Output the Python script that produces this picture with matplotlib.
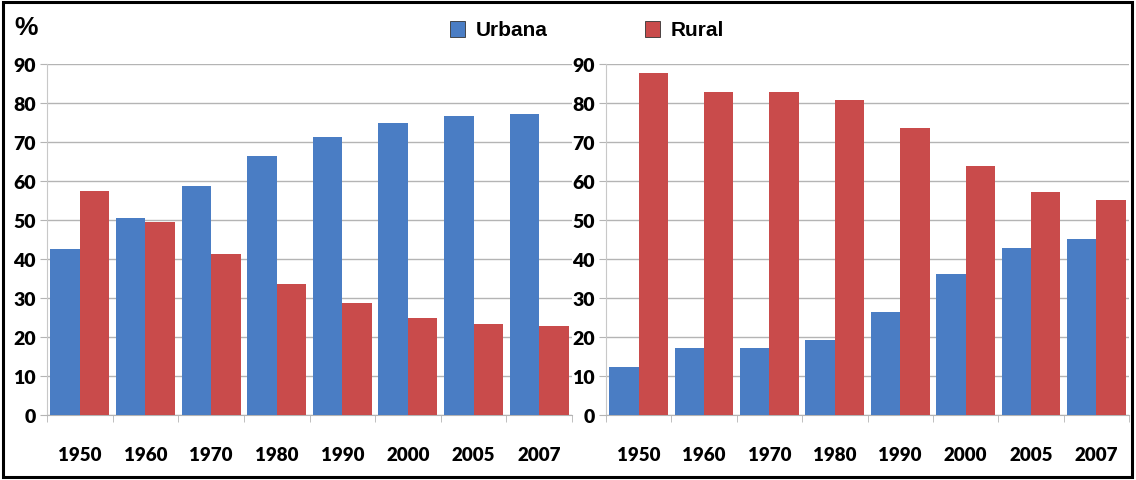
import numpy as np
import matplotlib
matplotlib.use("Agg")
import matplotlib.pyplot as plt
from matplotlib.patches import Rectangle

# data
years = ["1950", "1960", "1970", "1980", "1990", "2000", "2005", "2007"]
left_urban = [42.6, 50.5, 58.6, 66.5, 71.3, 75.0, 76.6, 77.2]
left_rural = [57.4, 49.5, 41.4, 33.5, 28.7, 25.0, 23.4, 22.8]
right_urban = [12.4, 17.2, 17.3, 19.3, 26.4, 36.1, 42.9, 45.0]
right_rural = [87.6, 82.8, 82.7, 80.7, 73.6, 63.9, 57.1, 55.0]
yticks = [0, 10, 20, 30, 40, 50, 60, 70, 80, 90]

blue = "#4a7dc4"
red = "#c94b4b"
grid_col = "#b4b4b4"
font = ["Lato", "DejaVu Sans"]

fig = plt.figure(figsize=(11.36, 4.81), dpi=100)
fig.patch.set_facecolor("white")


def draw_panel(ax, urban, rural):
    x = np.arange(len(years))
    w = 0.45
    ax.bar(x - w / 2, urban, width=w, color=blue, edgecolor="none", zorder=3)
    ax.bar(x + w / 2, rural, width=w, color=red, edgecolor="none", zorder=3)
    ax.set_xlim(-0.5, len(years) - 0.5)
    ax.set_ylim(0, 90)
    ax.set_yticks(yticks)
    ax.set_yticklabels([str(v) for v in yticks], family=font, fontweight="heavy", fontsize=14)
    ax.yaxis.grid(True, color=grid_col, linewidth=1.0, zorder=0)
    # category labels sit between the boundary tick marks
    ax.set_xticks(x)
    ax.set_xticklabels(years, family=font, fontweight="heavy", fontsize=13.5)
    ax.tick_params(axis="x", length=0, pad=22)
    ax.set_xticks(np.arange(len(years) + 1) - 0.5, minor=True)
    ax.tick_params(axis="x", which="minor", length=5, color=grid_col, direction="out")
    ax.tick_params(axis="y", length=5, color=grid_col, pad=3)
    for s in ["top", "right"]:
        ax.spines[s].set_visible(False)
    ax.spines["left"].set_color("#c8c8c8")
    ax.spines["bottom"].set_color(grid_col)


ax1 = fig.add_axes([47 / 1136, 1 - 416 / 481, 525 / 1136, 351 / 481])
draw_panel(ax1, left_urban, left_rural)
ax2 = fig.add_axes([606 / 1136, 1 - 416 / 481, 523 / 1136, 351 / 481])
draw_panel(ax2, right_urban, right_rural)

fig.text(14 / 1136, 1 - 28 / 481, "%", fontsize=19, fontweight="bold",
         family=["Liberation Sans", "DejaVu Sans"], va="center", ha="left")

# legend drawn by hand in figure coords
for xs, col, lab in [(450, blue, "Urbana"), (645, red, "Rural")]:
    fig.patches.append(Rectangle((xs / 1136, 1 - 38 / 481), 15 / 1136, 16 / 481,
                                 transform=fig.transFigure, facecolor=col,
                                 edgecolor="#333333", linewidth=0.6))
    fig.text((xs + 26) / 1136, 1 - 30 / 481, lab, fontsize=15, fontweight="bold",
             family=["Liberation Sans", "DejaVu Sans"], va="center", ha="left")

# black frame round the whole figure
fig.patches.append(Rectangle((3 / 1136, 3 / 481), 1129 / 1136, 475 / 481,
                             transform=fig.transFigure, fill=False,
                             edgecolor="black", linewidth=2.2))

fig.savefig("out.png", dpi=100)
